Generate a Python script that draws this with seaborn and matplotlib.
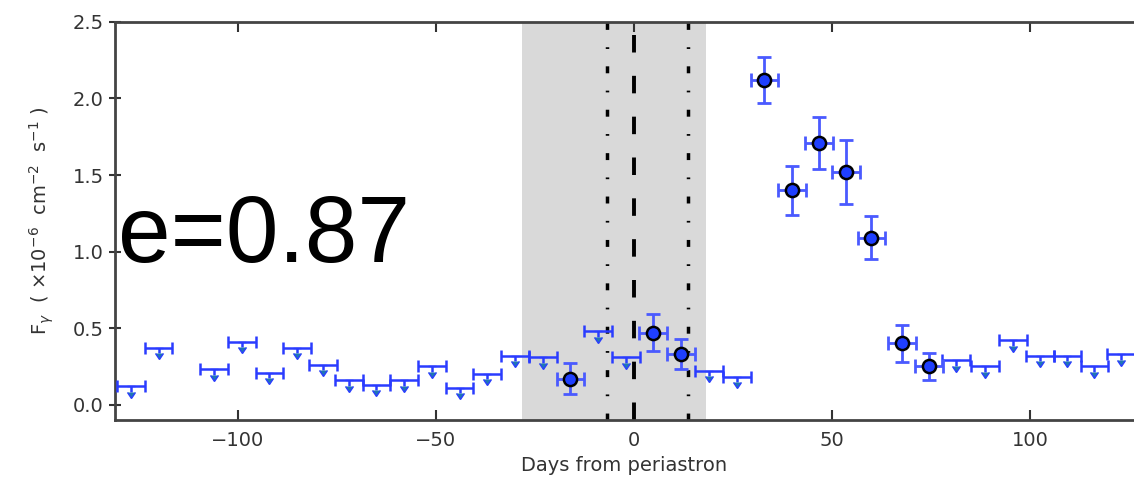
import numpy as np
import pandas as pd
import matplotlib
matplotlib.use("Agg")
import matplotlib.pyplot as plt
import seaborn as sns

# Detections (days from periastron, flux x1e-6, flux error)
det_days = [-16.0, 4.8, 12.0, 33.0, 40.0, 46.7, 53.5, 60.0, 67.7, 74.5]
det_flux = [0.17, 0.47, 0.33, 2.12, 1.40, 1.71, 1.52, 1.09, 0.40, 0.25]
det_err = [0.10, 0.12, 0.10, 0.15, 0.16, 0.17, 0.21, 0.14, 0.12, 0.09]

# Upper limits
ul_days = [-127.0, -120.0, -106.0, -99.0, -92.0, -85.0, -78.5, -72.0, -65.0, -58.0,
           -51.0, -44.0, -37.0, -30.0, -23.0, -9.0, -2.0, 19.0, 26.0, 81.4,
           88.6, 95.7, 102.5, 109.5, 116.3, 123.0]
ul_flux = [0.12, 0.37, 0.23, 0.41, 0.21, 0.37, 0.26, 0.16, 0.13, 0.16,
           0.25, 0.11, 0.20, 0.32, 0.31, 0.48, 0.31, 0.22, 0.18, 0.29,
           0.25, 0.42, 0.32, 0.32, 0.25, 0.33]

bin_halfwidth = 3.5
shade_range = (-28.3, 18.2)
periastron = 0.0
dotted_lines = [-6.8, 13.6]

sns.set_style("ticks")
plt.rcParams['font.family'] = ['DejaVu Sans']

fig = plt.figure(figsize=(11.34, 4.87), dpi=100)
ax = fig.add_axes([0.1014, 0.1376, 0.8986, 0.8174])

blue = '#2a3cff'
ax.axvspan(*shade_range, color='#d9d9d9', zorder=0, lw=0)
ax.axvline(periastron, color='black', lw=2.8, ls=(0, (4.5, 6)), zorder=1)
for d in dotted_lines:
    ax.axvline(d, color='black', lw=2.5, ls=(0, (2, 5, 0.5, 5)), zorder=1)

ul = pd.DataFrame({'day': ul_days, 'flux': ul_flux})
ax.errorbar(ul['day'], ul['flux'], xerr=bin_halfwidth, fmt='none', ecolor=blue,
            elinewidth=1.8, capsize=4, capthick=1.8, zorder=3)
ax.errorbar(ul['day'], ul['flux'], yerr=0.035, uplims=True, fmt='none', ecolor=blue,
            elinewidth=1.8, capsize=3, zorder=3)

det = pd.DataFrame({'day': det_days, 'flux': det_flux, 'err': det_err})
ax.errorbar(det['day'], det['flux'], xerr=bin_halfwidth, yerr=det['err'],
            fmt='none', ecolor='#4a5aff', elinewidth=2.0, capsize=5, capthick=2.0, zorder=3)
sns.scatterplot(data=det, x='day', y='flux', ax=ax, color='#1f3fff', edgecolor='black',
                s=90, linewidth=1.8, zorder=4, legend=False)

ax.set_xlim(-131, 126.3)
ax.set_ylim(-0.1, 2.5)
ax.set_xticks([-100, -50, 0, 50, 100])
ax.set_xticklabels(['\u2212100', '\u221250', '0', '50', '100'])
ax.set_yticks([0.0, 0.5, 1.0, 1.5, 2.0, 2.5])
ax.set_yticklabels(['0.0', '0.5', '1.0', '1.5', '2.0', '2.5'])
ax.tick_params(axis='x', direction='in', length=7, width=1.5, top=True, bottom=True,
               labelsize=14, colors='#333333', pad=8)
ax.tick_params(axis='y', direction='inout', length=8, width=1.5, labelsize=14,
               colors='#333333', pad=4)
for s in ['left', 'top', 'bottom']:
    ax.spines[s].set_color('#444444')
    ax.spines[s].set_linewidth(2)
ax.spines['right'].set_visible(False)

ax.set_xlabel('Days from periastron', fontsize=14, color='#333333')
ax.set_ylabel(r'F$_\gamma$  ( $\times10^{-6}$  cm$^{-2}$  s$^{-1}$ )', fontsize=14,
              color='#333333', labelpad=12)

fig.text(118 / 1134, 1 - 262 / 487, 'e=0.87', fontsize=68, family='Liberation Sans',
         color='black', ha='left', va='baseline')

fig.savefig('out.png', dpi=100)
